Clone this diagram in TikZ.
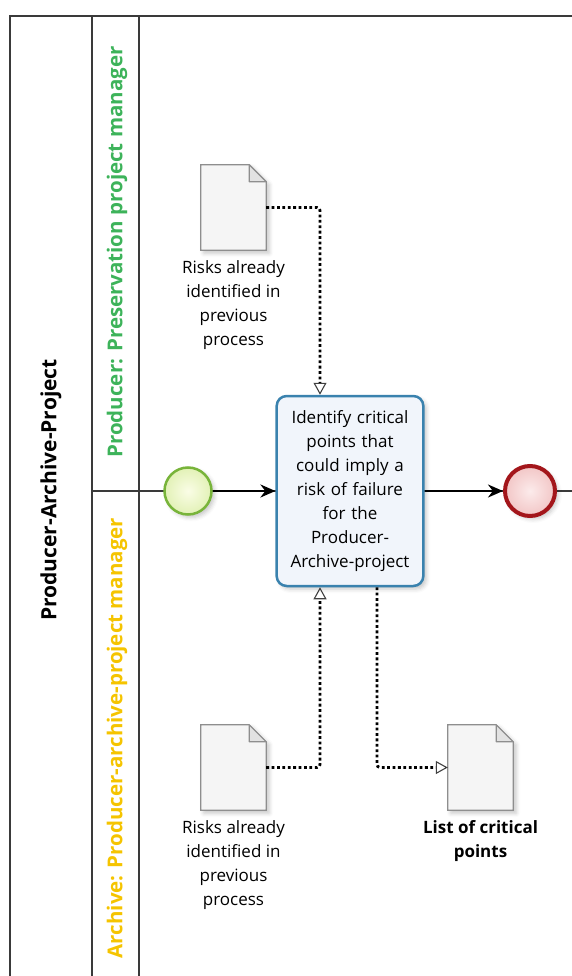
\documentclass[tikz,border=0pt]{standalone}
\usepackage{fontspec}
\setmainfont{Open Sans}
\usetikzlibrary{arrows.meta,shadows.blur,calc}

\definecolor{laneline}{HTML}{3A3A3A}
\definecolor{prodgreen}{HTML}{3DB35A}
\definecolor{archyellow}{HTML}{F5C400}
\definecolor{taskblue}{HTML}{3A82AE}
\definecolor{taskfill}{HTML}{F1F5FB}
\definecolor{startgreen}{HTML}{78B43A}
\definecolor{startinner}{HTML}{FAFDE6}
\definecolor{startouter}{HTML}{E2F1B6}
\definecolor{endred}{HTML}{A3161B}
\definecolor{endinner}{HTML}{FCEBEB}
\definecolor{endouter}{HTML}{F2C6C6}
\definecolor{docline}{HTML}{8E8E8E}
\definecolor{docfill}{HTML}{F5F5F5}
\definecolor{foldfill}{HTML}{E2E2E2}

\tikzset{
  lane/.style={draw=laneline, line width=1.3pt},
  softshadow/.style={blur shadow={shadow xshift=3pt, shadow yshift=-3pt,
      shadow blur radius=4pt, shadow opacity=22}},
  flow/.style={line width=2.4pt, -{Stealth[length=15pt,width=13pt]}},
  assoc/.style={line width=2.8pt, dash pattern=on 2.8pt off 2.6pt,
      rounded corners=3pt,
      -{Triangle[open,length=12pt,width=13pt,line width=1.1pt,color=black!75]}},
  taskbox/.style={rectangle, rounded corners=10pt, draw=taskblue,
      line width=2.5pt, fill=taskfill, softshadow, minimum width=146pt,
      minimum height=190pt, text width=140pt, align=center,
      font=\fontsize{17}{24}\selectfont},
  startevt/.style={circle, draw=startgreen, line width=2.5pt,
      inner color=startinner, outer color=startouter,
      softshadow, minimum size=47pt, inner sep=0pt},
  endevt/.style={circle, draw=endred, line width=4pt,
      inner color=endinner, outer color=endouter,
      softshadow, minimum size=50pt, inner sep=0pt},
  docbox/.style={rectangle, minimum width=65pt, minimum height=85pt,
      inner sep=0pt},
  doclabel/.style={align=center, inner sep=0pt,
      font=\fontsize{17}{24}\selectfont},
  lanelabel/.style={rotate=90, inner sep=0pt,
      font=\fontsize{20.5}{22}\selectfont\bfseries},
}

% data object outline with a folded top-right corner
\newcommand\dataobject[1]{%
  \draw[docline, fill=docfill, line width=1.2pt, softshadow]
    (#1.north west) -- ($(#1.north east)+(-17,0)$) -- ($(#1.north east)+(0,17)$)
    -- (#1.south east) -- (#1.south west) -- cycle;
  \draw[docline, fill=foldfill, line width=1.2pt, line join=round]
    ($(#1.north east)+(-17,0)$) -- ($(#1.north east)+(-17,17)$)
    -- ($(#1.north east)+(0,17)$) -- cycle;
}

\begin{document}
\begin{tikzpicture}[x=1pt, y=-1pt]
\useasboundingbox (0,0) rectangle (572,976);

% pool and lanes
\draw[lane] (10,976) -- (10,16) -- (572,16);
\draw[lane] (92,16) -- (92,976);
\draw[lane] (139,16) -- (139,976);
\draw[lane] (92,491) -- (572,491);

\node[lanelabel, text=black, font=\fontsize{21}{22}\selectfont\bfseries]
  (pool) at (51,490) {Producer-Archive-Project};
\node[lanelabel, text=prodgreen] (laneprod) at (117,252)
  {Producer: Preservation project manager};
\node[lanelabel, text=archyellow] (lanearch) at (117,738)
  {Archive: Producer-archive-project manager};

% flow objects
\node[startevt] (start) at (188,491) {};
\node[taskbox] (task) at (350,491)
  {Identify critical\\points that\\could imply a\\risk of failure\\for the\\Producer-\\Archive-project};
\node[endevt] (end) at (530,491) {};

\draw[flow] (start) -- (task);
\draw[flow] (task) -- (end);

% data objects
\node[docbox] (doc1) at (233.5,207.5) {};
\dataobject{doc1}
\node[doclabel, anchor=north] (doc1lbl) at (233.5,260)
  {Risks already\\identified in\\previous\\process};

\node[docbox] (doc2) at (233.5,767.5) {};
\dataobject{doc2}
\node[doclabel, anchor=north] (doc2lbl) at (233.5,820)
  {Risks already\\identified in\\previous\\process};

\node[docbox] (doc3) at (480.5,767.5) {};
\dataobject{doc3}
\node[doclabel, anchor=north, font=\fontsize{17}{24}\selectfont\bfseries]
  (doc3lbl) at (480.5,820) {List of critical\\points};

% associations
\draw[assoc] (doc1.east) -| ($(task.north)+(-30,0)$);
\draw[assoc] (doc2.east) -| ($(task.south)+(-30,0)$);
\draw[assoc] ($(task.south)+(27,0)$) |- (doc3.west);
\end{tikzpicture}
\end{document}
